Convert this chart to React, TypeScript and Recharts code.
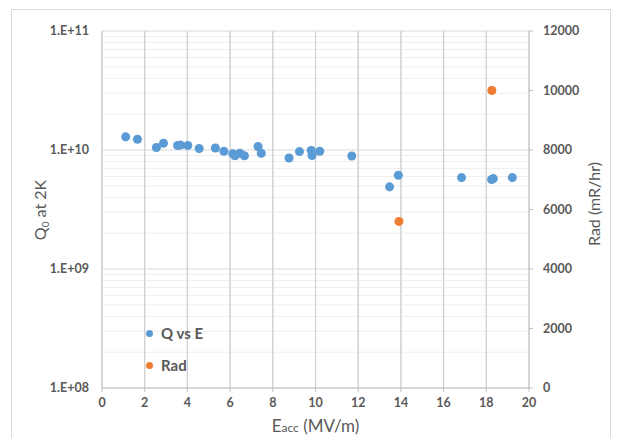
import React from 'react';
import {
  ComposedChart,
  Scatter,
  XAxis,
  YAxis,
  CartesianGrid,
  ReferenceLine,
  Legend,
  Label,
} from 'recharts';

// Q0 vs accelerating gradient
const qE = [1.11, 1.66, 2.55, 2.88, 3.54, 3.68, 4.02, 4.55, 5.31, 5.71, 6.13, 6.23, 6.46, 6.67, 7.31, 7.46, 8.76, 9.25, 9.8, 9.84, 10.2, 11.7, 13.47, 13.88, 16.84, 18.25, 18.33, 19.22];
const qValues = [1.29e10, 1.23e10, 1.05e10, 1.14e10, 1.09e10, 1.1e10, 1.09e10, 1.03e10, 1.04e10, 0.975e10, 0.93e10, 0.895e10, 0.94e10, 0.895e10, 1.07e10, 0.94e10, 0.857e10, 0.97e10, 0.99e10, 0.9e10, 0.975e10, 0.89e10, 0.49e10, 0.614e10, 0.586e10, 0.565e10, 0.575e10, 0.586e10];

// radiation
const radE = [13.91, 18.26];
const radValues = [5600, 10000];

const xTicks = [0, 2, 4, 6, 8, 10, 12, 14, 16, 18, 20];
const qTicks = [1e8, 1e9, 1e10, 1e11];
const radTicks = [0, 2000, 4000, 6000, 8000, 10000, 12000];
const qMinor = [2, 3, 4, 5, 6, 7, 8, 9].flatMap((m) => [m * 1e8, m * 1e9, m * 1e10]);

const qData = qE.map((x, i) => ({ x, y: qValues[i] }));
const radData = radE.map((x, i) => ({ x, y: radValues[i] }));

const BLUE = '#5B9BD5';
const ORANGE = '#ED7D31';
const TEXT = '#595959';
const FONT = 'Lato, "Open Sans", sans-serif';

const fmtExp = (v: number) => {
  const e = Math.round(Math.log10(v));
  return `1.E+${e < 10 ? '0' + e : e}`;
};

const legendItems = [
  { name: 'Q vs E', color: BLUE },
  { name: 'Rad', color: ORANGE },
];

const renderLegend = () => (
  <div style={{ fontFamily: FONT, fontWeight: 700, fontSize: 15, color: TEXT }}>
    {legendItems.map((it) => (
      <div key={it.name} style={{ display: 'flex', alignItems: 'center', height: 32 }}>
        <span style={{ width: 7, height: 7, borderRadius: '50%', background: it.color, marginRight: 8, display: 'inline-block' }} />
        {it.name}
      </div>
    ))}
  </div>
);

export default function App() {
  return (
    <div style={{ position: 'absolute', left: 0, top: 0, width: 619, height: 438, overflow: 'hidden', background: '#fff' }}>
      <div style={{ position: 'absolute', left: 11, top: 9, width: 598, height: 440, border: '1px solid #d9d9d9' }} />
      <ComposedChart
        width={619}
        height={438}
        margin={{ top: 31, right: 30, bottom: 25, left: 42 }}
        style={{ position: 'absolute', left: 0, top: 0, fontFamily: FONT }}
      >
        <CartesianGrid yAxisId="q" stroke="#d9d9d9" vertical horizontal />
        {qMinor.map((v) => (
          <ReferenceLine key={v} yAxisId="q" y={v} stroke="#eeeeee" ifOverflow="hidden" />
        ))}
        {xTicks.slice(1, -1).map((v) => (
          <ReferenceLine key={'x' + v} x={v} yAxisId="q" stroke="#d0d0d0" strokeWidth={1.2} />
        ))}
        <XAxis
          type="number"
          dataKey="x"
          domain={[0, 20]}
          ticks={xTicks}
          height={25}
          stroke="#bfbfbf"
          tickSize={4}
          tickMargin={6}
          tick={{ fill: TEXT, fontSize: 12.5, fontWeight: 700 }}
        >
          <Label
            content={({ viewBox }: any) => (
              <text x={viewBox.x + viewBox.width / 2} y={432} textAnchor="middle" fill={TEXT} fontSize={17} fontFamily={FONT}>
                E<tspan fontSize={12}>acc</tspan> (MV/m)
              </text>
            )}
          />
        </XAxis>
        <YAxis
          yAxisId="q"
          type="number"
          dataKey="y"
          scale="log"
          domain={[1e8, 1e11]}
          ticks={qTicks}
          tickFormatter={fmtExp}
          allowDataOverflow
          width={60}
          stroke="#bfbfbf"
          tickLine={false}
          tickSize={0}
          tickMargin={13}
          tick={{ fill: TEXT, fontSize: 12.5, fontWeight: 700 }}
        >
          <Label
            content={() => (
              <text x={0} y={0} transform="translate(46,210) rotate(-90)" textAnchor="middle" fill={TEXT} fontSize={16} fontFamily={FONT}>
                Q<tspan fontSize={10} dy={3}>0</tspan>
                <tspan dy={-3}> at 2K</tspan>
              </text>
            )}
          />
        </YAxis>
        <YAxis
          yAxisId="rad"
          orientation="right"
          type="number"
          dataKey="y"
          domain={[0, 12000]}
          ticks={radTicks}
          width={60}
          stroke="#bfbfbf"
          tickSize={4}
          tickMargin={10}
          tick={{ fill: TEXT, fontSize: 12.5, fontWeight: 700, textAnchor: 'start' }}
        >
          <Label
            content={() => (
              <text x={0} y={0} transform="translate(600,204) rotate(-90)" textAnchor="middle" fill={TEXT} fontSize={16} fontFamily={FONT}>
                Rad (mR/hr)
              </text>
            )}
          />
        </YAxis>
        <Legend
          layout="vertical"
          verticalAlign="middle"
          align="center"
          content={renderLegend}
          wrapperStyle={{ left: 146, top: 317, width: 'auto' }}
        />
        <Scatter name="Q vs E" data={qData} yAxisId="q" fill={BLUE} isAnimationActive={false} />
        <Scatter name="Rad" data={radData} yAxisId="rad" fill={ORANGE} isAnimationActive={false} />
      </ComposedChart>
    </div>
  );
}
